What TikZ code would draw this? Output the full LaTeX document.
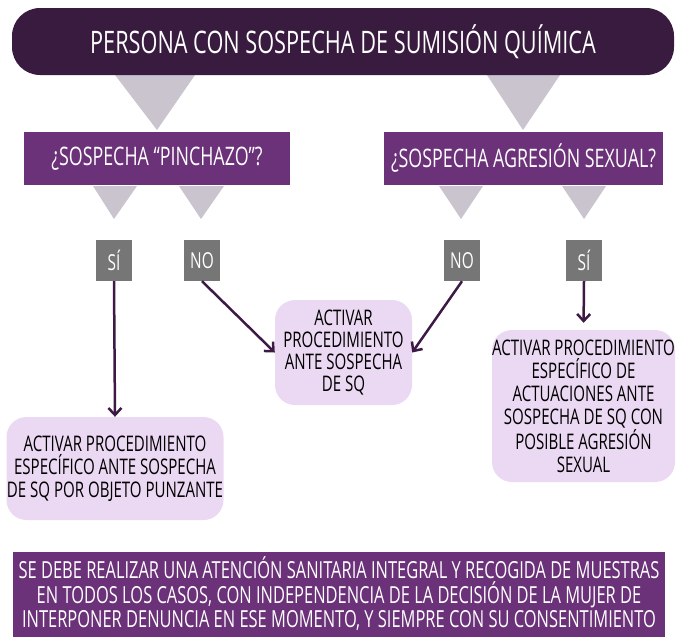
\documentclass[tikz,border=0pt]{standalone}
\usepackage{fontspec}
\setmainfont{Open Sans}[FakeStretch=0.70]
\usetikzlibrary{arrows.meta}

\definecolor{morado}{HTML}{6B3179}
\definecolor{moradooscuro}{HTML}{381B3F}
\definecolor{lila}{HTML}{EBD8F2}
\definecolor{grisclaro}{HTML}{C9C4CD}
\definecolor{gris}{HTML}{767676}
\definecolor{flecha}{HTML}{3D1A45}

\tikzset{
  titulo/.style={fill=moradooscuro, text=white, rounded corners=28pt, inner sep=0pt,
    minimum width=662pt, minimum height=67pt, font=\fontsize{31}{35}\selectfont},
  pregunta/.style={fill=morado, text=white, inner sep=0pt, minimum height=53pt,
    font=\fontsize{25.5}{30}\selectfont},
  opcion/.style={fill=gris, text=white, inner sep=0pt, minimum width=36pt,
    minimum height=41pt, font=\fontsize{22}{26}\selectfont},
  resultado/.style={fill=lila, text=black, rounded corners=20pt, inner sep=0pt,
    align=center, font=\fontsize{21.5}{23}\selectfont},
  aviso/.style={fill=morado, text=white, inner sep=0pt, align=center,
    minimum width=652pt, minimum height=85pt, font=\fontsize{23.5}{24.5}\selectfont},
  conector/.style={draw=flecha, line width=2.5pt, -{Straight Barb[length=7pt,width=13pt]}}
}

\begin{document}
\begin{tikzpicture}[x=1pt, y=-1pt]
  \useasboundingbox (0,0) rectangle (677,638);

  % Triángulos grises
  \fill[grisclaro] (115,75) -- (195,75) -- (157,130) -- cycle;
  \fill[grisclaro] (487,75) -- (560,75) -- (523,130) -- cycle;
  \fill[grisclaro] (93,186) -- (137,186) -- (114,219) -- cycle;
  \fill[grisclaro] (179,186) -- (224,186) -- (201,219) -- cycle;
  \fill[grisclaro] (439,186) -- (483,186) -- (461,219) -- cycle;
  \fill[grisclaro] (562,186) -- (606,186) -- (584,219) -- cycle;

  % Cabecera
  \node[titulo] (persona) at (343,41.5) {PERSONA CON SOSPECHA DE SUMISIÓN QUÍMICA};

  % Preguntas
  \node[pregunta, minimum width=266pt] (pinchazo) at (157,158.5) {¿SOSPECHA “PINCHAZO”?};
  \node[pregunta, minimum width=279pt] (agresion) at (523.5,158.5) {¿SOSPECHA AGRESIÓN SEXUAL?};

  % Respuestas
  \node[opcion] (si1) at (114,260.5) {SÍ};
  \node[opcion] (no1) at (202,260.5) {NO};
  \node[opcion] (no2) at (462,260.5) {NO};
  \node[opcion] (si2) at (584,260.5) {SÍ};

  % Procedimientos
  \node[resultado, minimum width=217pt, minimum height=103pt] (punzante) at (115,468.5)
    {ACTIVAR PROCEDIMIENTO\\ESPECÍFICO ANTE SOSPECHA\\DE SQ POR OBJETO PUNZANTE};
  \node[resultado, minimum width=137pt, minimum height=105pt,
    font=\fontsize{21.5}{22}\selectfont] (general) at (343.5,352.5)
    {ACTIVAR\\PROCEDIMIENTO\\ANTE SOSPECHA\\DE SQ};
  \node[resultado, minimum width=183pt, minimum height=152pt] (sexual) at (583.5,406)
    {ACTIVAR PROCEDIMIENTO\\ESPECÍFICO DE\\ACTUACIONES ANTE\\SOSPECHA DE SQ CON\\POSIBLE AGRESIÓN\\SEXUAL};

  % Flechas
  \draw[conector] (si1.south) -- (punzante.north);
  \draw[conector] (no1.south) -- (general.west);
  \draw[conector] (no2.south) -- (general.east);
  \draw[conector, shorten >=7pt] (si2.south) -- (sexual.north);

  % Nota final
  \node[aviso] (nota) at (339,594)
    {SE DEBE REALIZAR UNA ATENCIÓN SANITARIA INTEGRAL Y RECOGIDA DE MUESTRAS\\
     EN TODOS LOS CASOS, CON INDEPENDENCIA DE LA DECISIÓN DE LA MUJER DE\\
     INTERPONER DENUNCIA EN ESE MOMENTO, Y SIEMPRE CON SU CONSENTIMIENTO};
\end{tikzpicture}
\end{document}
